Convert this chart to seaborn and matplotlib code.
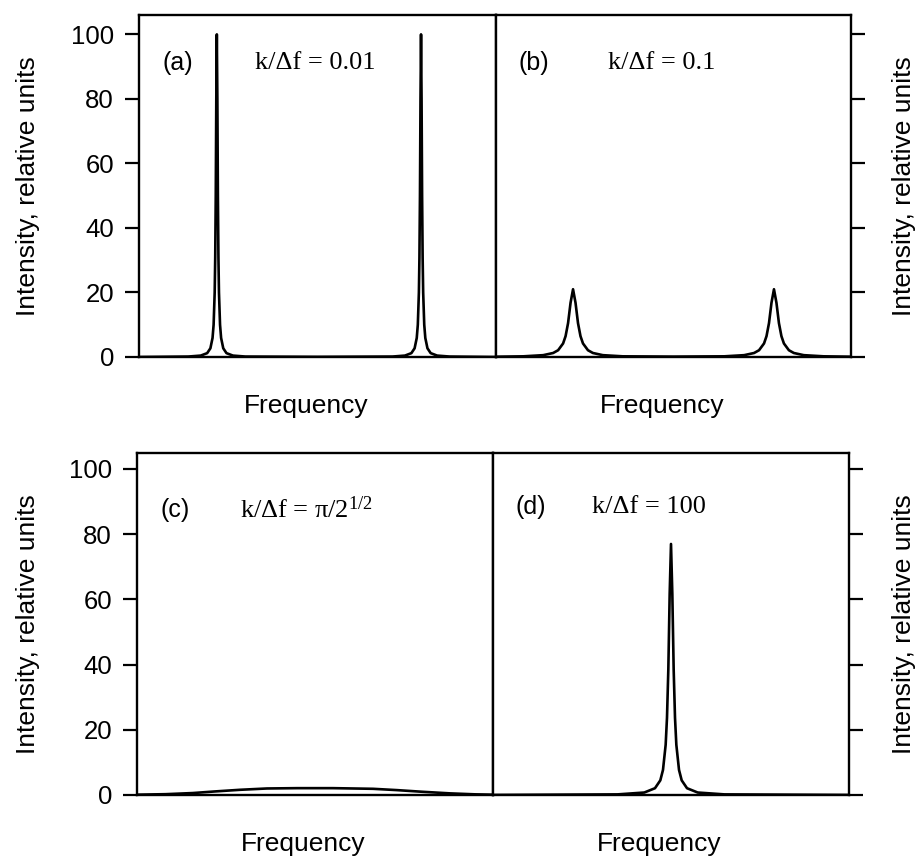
import matplotlib
matplotlib.use("Agg")
import matplotlib.pyplot as plt
import seaborn as sns
import pandas as pd

# ---------------- data ----------------
# panel (a)  k/Δf = 0.01 : two very sharp lines
freq_a = [0.0, 0.138, 0.173, 0.191, 0.200, 0.206, 0.209, 0.212, 0.2135, 0.215, 0.2165,
          0.218, 0.2195, 0.221, 0.2225, 0.224, 0.227, 0.230, 0.236, 0.245, 0.263, 0.298,
          0.50, 0.710, 0.745, 0.763, 0.772, 0.778, 0.781, 0.784, 0.7855, 0.787, 0.7885,
          0.790, 0.7915, 0.793, 0.7945, 0.796, 0.799, 0.802, 0.808, 0.817, 0.835, 0.870, 1.0]
int_a = [0.0, 0.14, 0.44, 1.2, 2.7, 5.9, 10, 20, 30.8, 50, 80,
         100, 80, 50, 30.8, 20, 10, 5.9, 2.7, 1.2, 0.44, 0.14,
         0.05, 0.14, 0.44, 1.2, 2.7, 5.9, 10, 20, 30.8, 50, 80,
         100, 80, 50, 30.8, 20, 10, 5.9, 2.7, 1.2, 0.44, 0.14, 0.0]

# panel (b)  k/Δf = 0.1 : two broadened lines
freq_b = [0.0, 0.077, 0.133, 0.161, 0.175, 0.189, 0.196, 0.203, 0.210, 0.217, 0.224,
          0.231, 0.238, 0.245, 0.259, 0.273, 0.301, 0.357, 0.50, 0.643, 0.699, 0.727,
          0.741, 0.755, 0.762, 0.769, 0.776, 0.783, 0.790, 0.797, 0.804, 0.811, 0.825,
          0.839, 0.867, 0.923, 1.0]
int_b = [0.09, 0.21, 0.57, 1.24, 2.1, 4.2, 6.46, 10.5, 16.8, 21.0, 16.8,
         10.5, 6.46, 4.2, 2.1, 1.24, 0.57, 0.21, 0.12, 0.21, 0.57, 1.24,
         2.1, 4.2, 6.46, 10.5, 16.8, 21.0, 16.8, 10.5, 6.46, 4.2, 2.1,
         1.24, 0.57, 0.21, 0.09]

# panel (c)  k/Δf = π/2^{1/2} : coalescence, very flat hump
freq_c = [0.0, 0.08, 0.157, 0.22, 0.29, 0.365, 0.45, 0.55, 0.663, 0.73, 0.80, 0.879, 0.95, 1.0]
int_c = [0.1, 0.25, 0.6, 1.1, 1.6, 2.0, 2.1, 2.1, 1.9, 1.5, 1.0, 0.5, 0.2, 0.1]

# panel (d)  k/Δf = 100 : single averaged line
freq_d = [0.0, 0.35, 0.425, 0.455, 0.47, 0.4775, 0.485, 0.48875, 0.4925, 0.49625, 0.5,
          0.50375, 0.5075, 0.51125, 0.515, 0.5225, 0.53, 0.545, 0.575, 0.65, 1.0]
int_d = [0.02, 0.19, 0.76, 2.08, 4.5, 7.7, 15.4, 23.7, 38.5, 61.6, 77,
         61.6, 38.5, 23.7, 15.4, 7.7, 4.5, 2.08, 0.76, 0.19, 0.02]

panel_tags = ["(a)", "(b)", "(c)", "(d)"]
panel_ratios = ["k/Δf = 0.01", "k/Δf = 0.1", "k/Δf = π/2$^{1/2}$", "k/Δf = 100"]
y_ticks = [0, 20, 40, 60, 80, 100]
y_label = "Intensity, relative units"
x_label = "Frequency"

# ---------------- style ----------------
sns.set_theme(style="ticks")
plt.rcParams["font.family"] = ["Liberation Sans", "DejaVu Sans"]
plt.rcParams["text.color"] = "black"
plt.rcParams["axes.labelcolor"] = "black"
plt.rcParams["xtick.color"] = "black"
plt.rcParams["ytick.color"] = "black"
plt.rcParams["mathtext.fontset"] = "custom"
plt.rcParams["mathtext.rm"] = "Liberation Serif"
plt.rcParams["mathtext.it"] = "Liberation Serif:italic"

W, H = 918, 857
fig = plt.figure(figsize=(W / 100, H / 100), dpi=100)
fig.patch.set_facecolor("white")

def px_axes(l, t, r, b):
    return fig.add_axes([l / W, 1 - b / H, (r - l) / W, (b - t) / H])

ax_a = px_axes(139, 15, 496, 357)
ax_b = px_axes(496, 15, 851, 357)
ax_c = px_axes(137, 453, 493, 795)
ax_d = px_axes(493, 453, 849, 795)

panels = [
    (ax_a, freq_a, int_a, "left", 106, (0.067, 0.86, 0.325)),
    (ax_b, freq_b, int_b, "right", 106, (0.062, 0.86, 0.315)),
    (ax_c, freq_c, int_c, "left", 104.9, (0.065, 0.833, 0.289)),
    (ax_d, freq_d, int_d, "right", 104.9, (0.062, 0.842, 0.278)),
]

for i, (ax, fx, fy, side, ytop, (tx, ty, kx)) in enumerate(panels):
    df = pd.DataFrame({"freq": fx, "intensity": fy})
    sns.lineplot(data=df, x="freq", y="intensity", ax=ax, color="black",
                 linewidth=1.9, estimator=None, sort=False)
    ax.set_xlim(0, 1)
    ax.set_ylim(0, ytop)
    ax.set_xticks([])
    ax.set_yticks(y_ticks)
    ax.set_facecolor("white")
    for sp in ax.spines.values():
        sp.set_visible(True)
        sp.set_color("black")
        sp.set_linewidth(1.7)
    if side == "left":
        ax.yaxis.tick_left()
        ax.tick_params(axis="y", direction="out", length=10, width=1.6,
                       colors="black", labelcolor="black", labelsize=18.5, pad=8)
        ax.set_ylabel(y_label, fontsize=19, va="center", ha="center", color="black")
        ax.yaxis.set_label_coords((28 - (139 if i == 0 else 137)) / (357 if i == 0 else 356), 0.5)
    else:
        ax.yaxis.tick_right()
        ax.yaxis.set_label_position("right")
        ax.tick_params(axis="y", direction="out", length=10, width=1.6,
                       colors="black", labelright=False, labelleft=False)
        ax.set_ylabel(y_label, fontsize=19, va="center", ha="center", rotation=90,
                      color="black")
        ax.yaxis.set_label_coords((904 - (496 if i == 1 else 493)) / (355 if i == 1 else 356), 0.5)
    ax.set_xlabel(x_label, fontsize=19, va="top", color="black")
    ax.xaxis.set_label_coords(0.467, -0.108)
    ax.text(tx, ty, panel_tags[i], transform=ax.transAxes, fontsize=18,
            ha="left", va="center", color="black")
    ax.text(kx, ty, panel_ratios[i], transform=ax.transAxes, fontsize=19,
            ha="left", va="center", color="black", family="Liberation Serif")

fig.savefig("out.png", dpi=100, facecolor="white")
